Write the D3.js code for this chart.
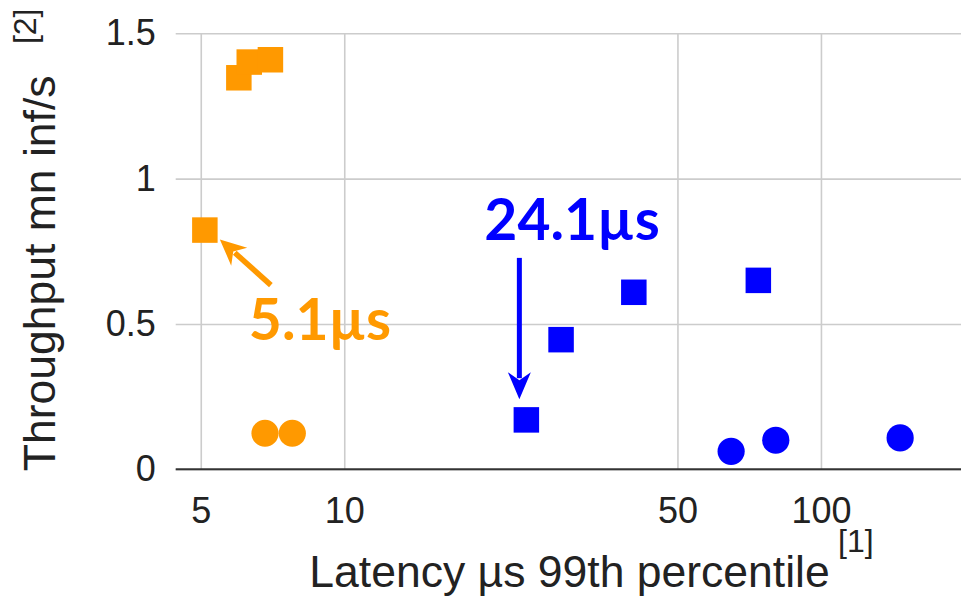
<!DOCTYPE html>
<html>
<head>
<meta charset="utf-8">
<script src="https://cdn.jsdelivr.net/npm/d3@7"></script>
<style>
  html, body { margin: 0; padding: 0; background: #fff; }
  svg { display: block; }
</style>
</head>
<body>
<svg id="chart" width="961" height="601"></svg>
<script>
// ---- data ----
const orangeSquareLatency = [6.01, 6.32, 7.0, 5.1];
const orangeSquareThroughput = [1.347, 1.401, 1.409, 0.823];
const orangeCircleLatency = [6.82, 7.78];
const orangeCircleThroughput = [0.124, 0.124];
const blueSquareLatency = [24.1, 28.5, 40.5, 73.9];
const blueSquareThroughput = [0.17, 0.446, 0.609, 0.65];
const blueCircleLatency = [64.8, 80.4, 146.6];
const blueCircleThroughput = [0.062, 0.10, 0.108];
const xTicks = [5, 10, 50, 100];
const yTicks = [0, 0.5, 1, 1.5];
const xTitle = "Latency µs 99th percentile";
const yTitle = "Throughput mn inf/s";
const xNote = "[1]";
const yNote = "[2]";
const orangeLabel = "5.1µs";
const blueLabel = "24.1µs";

// ---- layout ----
const plotL = 175.7, plotR = 961, plotT = 33.3, plotB = 469.3;
const ORANGE = "#FF9900", BLUE = "#0000FF";

const svg = d3.select("#chart");
const x = d3.scaleLog().domain([4.43, 196.7]).range([plotL, plotR]);
const y = d3.scaleLinear().domain([0, 1.5]).range([plotB, plotT]);

const tickFont = "'Liberation Sans', Arial, sans-serif";

// gridlines + y axis
const yAxis = svg.append("g")
  .attr("transform", `translate(${plotL},0)`)
  .call(d3.axisLeft(y).tickValues(yTicks).tickFormat(d3.format("~g"))
        .tickSize(-(plotR - plotL)).tickPadding(20));
yAxis.select(".domain").remove();
yAxis.selectAll(".tick line").attr("stroke", "#cccccc").attr("stroke-width", 1.6);
yAxis.selectAll(".tick text")
  .attr("font-family", tickFont).attr("font-size", 36).attr("fill", "#222")
  .attr("dy", "0.32em");

const xAxis = svg.append("g")
  .attr("transform", `translate(0,${plotB})`)
  .call(d3.axisBottom(x).tickValues(xTicks).tickFormat(d3.format("~g"))
        .tickSize(-(plotB - plotT)).tickPadding(27.8));
xAxis.select(".domain").remove();
xAxis.selectAll(".tick line").attr("stroke", "#cccccc").attr("stroke-width", 1.6);
xAxis.selectAll(".tick text")
  .attr("font-family", tickFont).attr("font-size", 36).attr("fill", "#222");

// zero baseline
svg.append("line")
  .attr("x1", plotL).attr("x2", plotR)
  .attr("y1", y(0)).attr("y2", y(0))
  .attr("stroke", "#333").attr("stroke-width", 2);

// axis titles
svg.append("text")
  .attr("x", 569.5).attr("y", 587)
  .attr("text-anchor", "middle")
  .attr("font-family", tickFont).attr("font-size", 44.5).attr("fill", "#222")
  .text(xTitle);
svg.append("text")
  .attr("x", 838).attr("y", 551.6)
  .attr("font-family", tickFont).attr("font-size", 32).attr("fill", "#222")
  .text(xNote);
svg.append("text")
  .attr("transform", "translate(55,273.3) rotate(-90)")
  .attr("text-anchor", "middle")
  .attr("font-family", tickFont).attr("font-size", 44.5).attr("fill", "#222")
  .text(yTitle);
svg.append("text")
  .attr("transform", "translate(36,26.3) rotate(-90)")
  .attr("text-anchor", "middle")
  .attr("font-family", tickFont).attr("font-size", 32).attr("fill", "#222")
  .text(yNote);

// marks
const SQ = 25.5, R = 13.6;
function squares(xs, ys, color) {
  svg.append("g").selectAll("rect")
    .data(xs.map((v, i) => [v, ys[i]]))
    .join("rect")
    .attr("x", d => x(d[0]) - SQ / 2).attr("y", d => y(d[1]) - SQ / 2)
    .attr("width", SQ).attr("height", SQ)
    .attr("fill", color);
}
function circles(xs, ys, color) {
  svg.append("g").selectAll("circle")
    .data(xs.map((v, i) => [v, ys[i]]))
    .join("circle")
    .attr("cx", d => x(d[0])).attr("cy", d => y(d[1])).attr("r", R)
    .attr("fill", color);
}
squares(orangeSquareLatency, orangeSquareThroughput, ORANGE);
circles(orangeCircleLatency, orangeCircleThroughput, ORANGE);
squares(blueSquareLatency, blueSquareThroughput, BLUE);
circles(blueCircleLatency, blueCircleThroughput, BLUE);

// annotations with arrows
function arrow(x1, y1, x2, y2, color, headLen, headW, sw) {
  const ang = Math.atan2(y2 - y1, x2 - x1);
  const c = Math.cos(ang), s = Math.sin(ang);
  const bx = x2 - headLen * c, by = y2 - headLen * s;
  svg.append("line")
    .attr("x1", x1).attr("y1", y1).attr("x2", bx + 2 * c).attr("y2", by + 2 * s)
    .attr("stroke", color).attr("stroke-width", sw);
  const px = -s * headW / 2, py = c * headW / 2;
  const nx = bx + 4 * c, ny = by + 4 * s;
  svg.append("path")
    .attr("d", `M${x2},${y2}L${bx + px - 4 * c},${by + py - 4 * s}L${nx},${ny}L${bx - px - 4 * c},${by - py - 4 * s}Z`)
    .attr("fill", color);
}
const annFont = "Lato, 'Open Sans', sans-serif";

// orange annotation (5.1µs point)
const ox = x(orangeSquareLatency[3]), oy = y(orangeSquareThroughput[3]);
arrow(ox + 66, oy + 55, ox + 15, oy + 9.3, ORANGE, 22, 24, 5.5);
svg.append("text")
  .attr("x", ox + 44).attr("y", oy + 110)
  .attr("font-family", annFont).attr("font-weight", 700).attr("font-size", 57)
  .attr("fill", ORANGE).text(orangeLabel);

// blue annotation (24.1µs point)
const bxp = x(blueSquareLatency[0]), byp = y(blueSquareThroughput[0]);
arrow(bxp - 7, byp - 162, bxp - 7, byp - 20.7, BLUE, 23, 23, 5);
svg.append("text")
  .attr("x", bxp - 42).attr("y", byp - 180)
  .attr("font-family", annFont).attr("font-weight", 700).attr("font-size", 57)
  .attr("fill", BLUE).text(blueLabel);
</script>
</body>
</html>
